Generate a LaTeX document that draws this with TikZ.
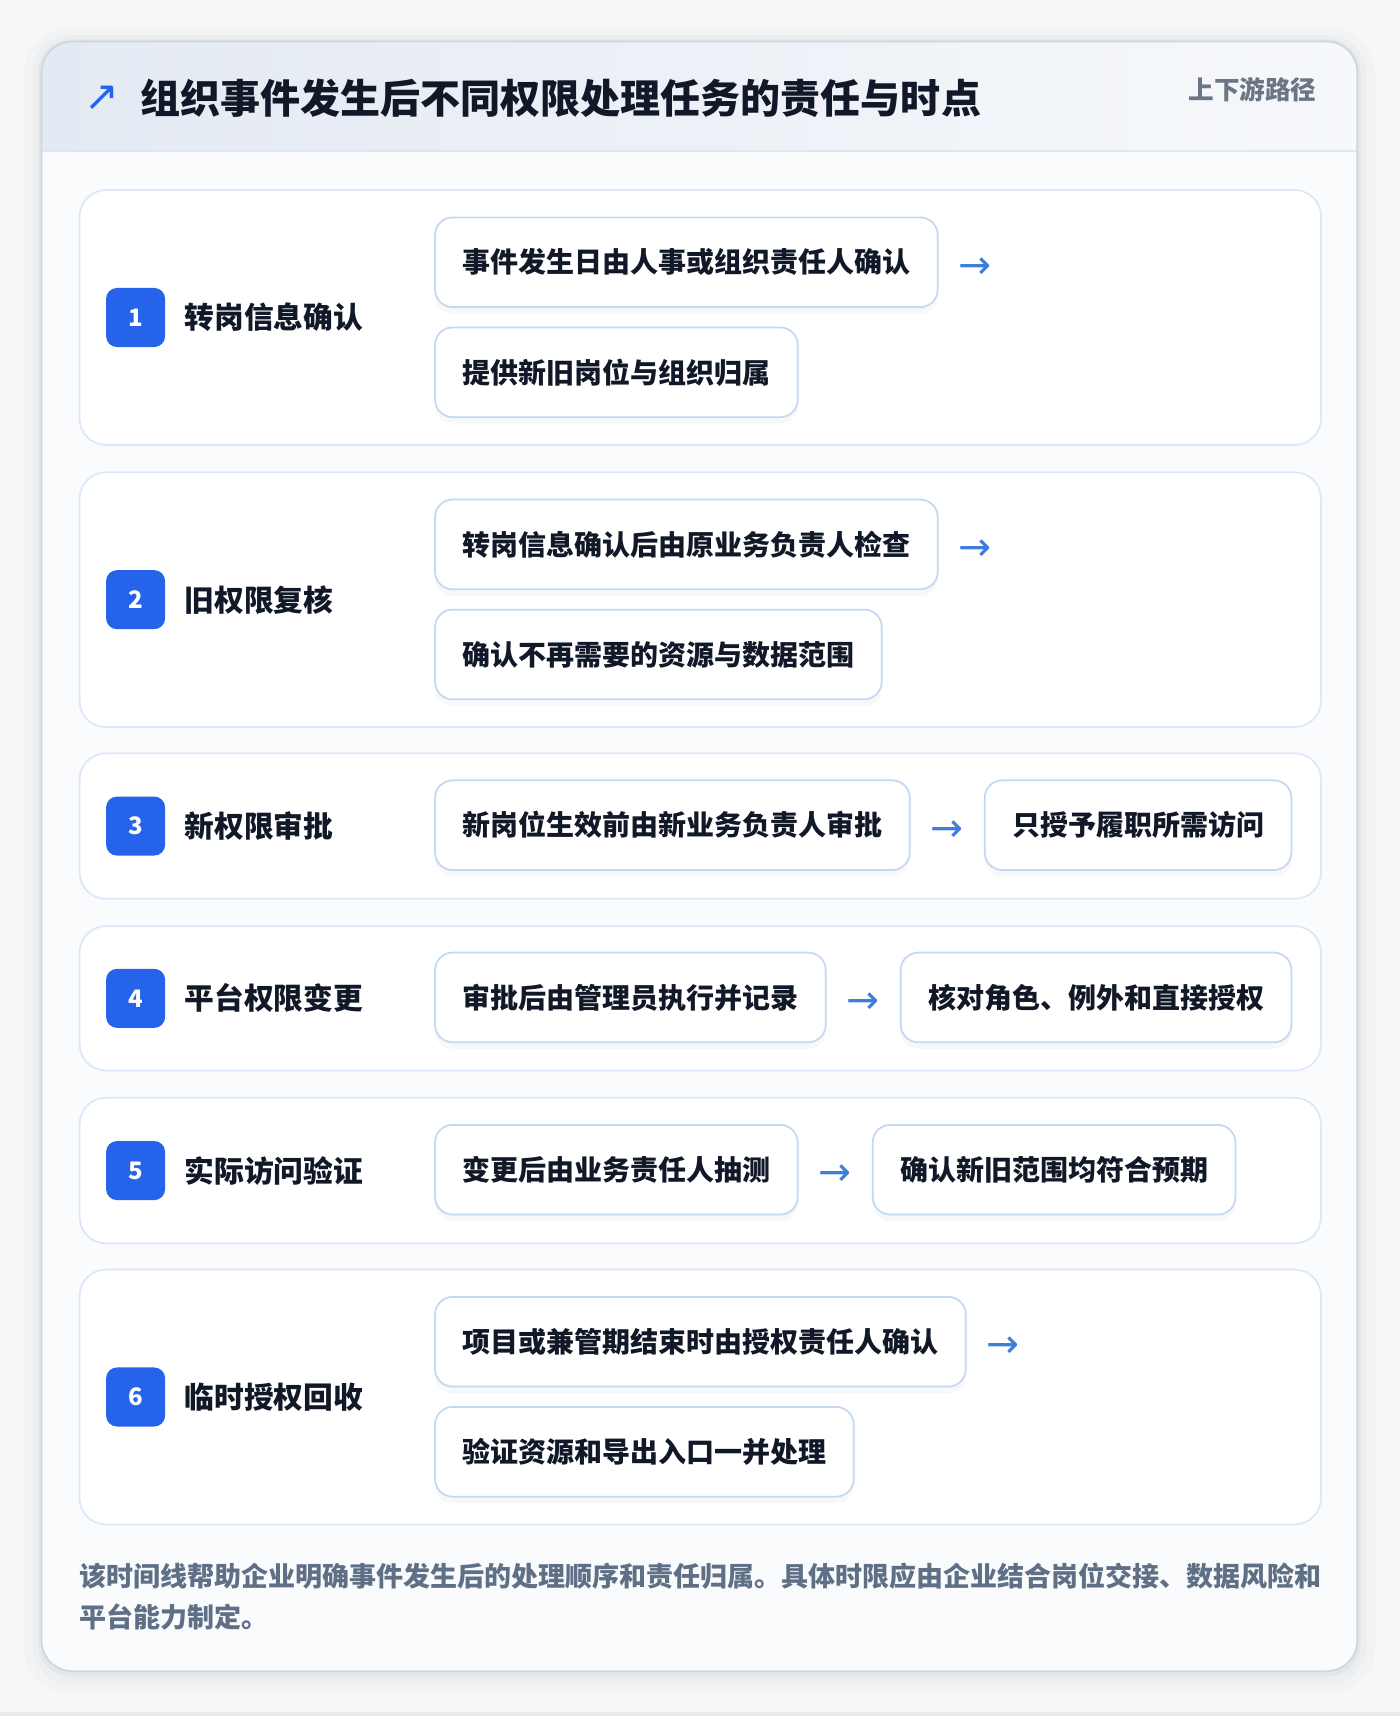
\documentclass[tikz,border=0pt]{standalone}
\usepackage{fontspec}
\setmainfont{Noto Sans CJK SC}
\newfontfamily\symfont{DejaVu Sans}
\usepackage{xcolor}
\usetikzlibrary{positioning,shadows}

\definecolor{pagebg}{HTML}{F6F7F9}
\definecolor{cardline}{HTML}{CDD6E2}
\definecolor{cardbody}{HTML}{F9FBFD}
\definecolor{headleft}{HTML}{E4EAF3}
\definecolor{headright}{HTML}{F6F8FB}
\definecolor{headrule}{HTML}{DCE7F5}
\definecolor{rowline}{HTML}{DCE8F8}
\definecolor{boxline}{HTML}{C3D8F4}
\definecolor{ink}{HTML}{111827}
\definecolor{badgeblue}{HTML}{2563EB}
\definecolor{arrowblue}{HTML}{3B7DDD}
\definecolor{muted}{HTML}{6B7685}
\definecolor{notegray}{HTML}{5F6F86}

\begin{document}
\begin{tikzpicture}[
    x = 0.5pt, y = -0.5pt,
    every node/.style = {inner sep=0pt, font=\bfseries},
    row/.style        = {draw=rowline, fill=white, line width=0.8pt, rounded corners=12pt,
                         minimum width=567.5pt, anchor=north west},
    badge/.style      = {fill=badgeblue, text=white, rounded corners=5pt, minimum size=27pt,
                         font=\bfseries\fontsize{11}{11}\selectfont},
    stage/.style      = {text=ink, font=\bfseries\fontsize{13.6}{14}\selectfont},
    task/.style       = {draw=boxline, fill=white, line width=0.8pt, rounded corners=8pt,
                         minimum height=41pt, inner xsep=12.5pt, text=ink,
                         font=\bfseries\fontsize{12.8}{13}\selectfont,
                         drop shadow={opacity=0.05, shadow xshift=0pt, shadow yshift=-3pt}},
    flow/.style       = {text=arrowblue, font=\symfont\fontsize{18}{18}\selectfont}
  ]
\useasboundingbox (0,0) rectangle (1280,1569);
\fill[pagebg] (0,0) rectangle (1280,1569);
\fill[black!8] (0,1565) rectangle (1280,1569);

% card with a soft shadow
\fill[black, opacity=0.015, rounded corners=20pt] (22,26) rectangle (1257,1548);
\fill[black, opacity=0.02, rounded corners=17pt] (30,32) rectangle (1249,1540);
\fill[black, opacity=0.03, rounded corners=15pt] (35,36) rectangle (1244,1533);
\fill[cardbody, rounded corners=14pt] (38,38) rectangle (1241,1528);
\begin{scope}
  \clip[rounded corners=14pt] (38,38) rectangle (1241,1528);
  \shade[left color=headleft, right color=headright] (38,38) rectangle (1241,138);
\end{scope}
\draw[headrule, line width=1pt] (38,138) -- (1241,138);
\draw[cardline, line width=0.8pt, rounded corners=14pt] (38,38) rectangle (1241,1528);

% header
\node[text=badgeblue, font=\symfont\fontsize{19}{19}\selectfont] (mark) at (93,90) {↗};
\node[anchor=west, text=ink, font=\bfseries\fontsize{18.3}{19}\selectfont] (title) at (128,90)
  {组织事件发生后不同权限处理任务的责任与时点};
\node[anchor=east, text=muted, font=\bfseries\fontsize{11.7}{12}\selectfont] (tag) at (1204,82)
  {上下游路径};

% stage rows
\node[row, minimum height=116.5pt] (r1) at (72,173) {};
\node[row, minimum height=116.5pt] (r2) at (72,431) {};
\node[row, minimum height=66.5pt]  (r3) at (72,688) {};
\node[row, minimum height=66pt]    (r4) at (72,846) {};
\node[row, minimum height=66.5pt]  (r5) at (72,1003) {};
\node[row, minimum height=116.5pt] (r6) at (72,1160) {};

\node[badge] (b1) at ([xshift=26pt]r1.west) {1};
\node[badge] (b2) at ([xshift=26pt]r2.west) {2};
\node[badge] (b3) at ([xshift=26pt]r3.west) {3};
\node[badge] (b4) at ([xshift=26pt]r4.west) {4};
\node[badge] (b5) at ([xshift=26pt]r5.west) {5};
\node[badge] (b6) at ([xshift=26pt]r6.west) {6};

\node[stage, right=8.5pt of b1] (s1) {转岗信息确认};
\node[stage, right=8.5pt of b2] (s2) {旧权限复核};
\node[stage, right=8.5pt of b3] (s3) {新权限审批};
\node[stage, right=8.5pt of b4] (s4) {平台权限变更};
\node[stage, right=8.5pt of b5] (s5) {实际访问验证};
\node[stage, right=8.5pt of b6] (s6) {临时授权回收};

% step 1
\node[task, anchor=north west] (t1a) at (397,198) {事件发生日由人事或组织责任人确认};
\node[task, below right=8.5pt and 0pt of t1a.south west] (t1b) {提供新旧岗位与组织归属};
\node[flow, right=9pt of t1a, yshift=-2.5pt] (f1) {→};

% step 2
\node[task, anchor=north west] (t2a) at (397,456) {转岗信息确认后由原业务负责人检查};
\node[task, below right=8.5pt and 0pt of t2a.south west] (t2b) {确认不再需要的资源与数据范围};
\node[flow, right=9pt of t2a, yshift=-2.5pt] (f2) {→};

% step 3
\node[task, anchor=west] (t3a) at (397,754.5) {新岗位生效前由新业务负责人审批};
\node[flow, right=9pt of t3a, yshift=-2.5pt] (f3) {→};
\node[task, right=9pt of f3, yshift=2.5pt] (t3b) {只授予履职所需访问};

% step 4
\node[task, anchor=west] (t4a) at (397,912) {审批后由管理员执行并记录};
\node[flow, right=9pt of t4a, yshift=-2.5pt] (f4) {→};
\node[task, right=9pt of f4, yshift=2.5pt] (t4b) {核对角色、例外和直接授权};

% step 5
\node[task, anchor=west] (t5a) at (397,1069.5) {变更后由业务责任人抽测};
\node[flow, right=9pt of t5a, yshift=-2.5pt] (f5) {→};
\node[task, right=9pt of f5, yshift=2.5pt] (t5b) {确认新旧范围均符合预期};

% step 6
\node[task, anchor=north west] (t6a) at (397,1185) {项目或兼管期结束时由授权责任人确认};
\node[task, below right=8.5pt and 0pt of t6a.south west] (t6b) {验证资源和导出入口一并处理};
\node[flow, right=9pt of t6a, yshift=-2.5pt] (f6) {→};

% note
\node[anchor=north west, align=left, text=notegray,
      font=\bfseries\fontsize{12.35}{19}\selectfont] (note) at (72,1428.5)
  {该时间线帮助企业明确事件发生后的处理顺序和责任归属。具体时限应由企业结合岗位交接、数据风险和\\
   平台能力制定。};
\end{tikzpicture}
\end{document}
